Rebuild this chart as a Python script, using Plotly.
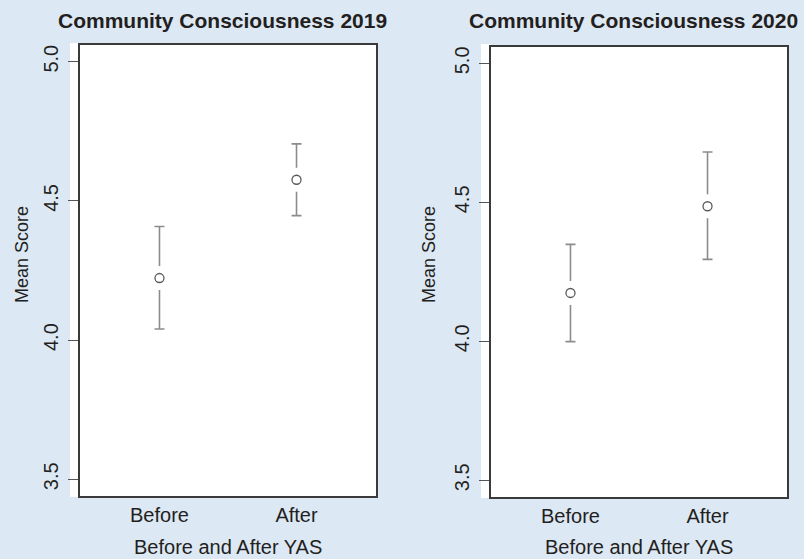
import plotly.graph_objects as go

# Group labels and their positions on the x axis
groups = ["Before", "After"]
x_pos = [1, 2]

# Mean scores with confidence limits, 2019
mean_2019 = [4.223, 4.576]
lower_2019 = [4.040, 4.447]
upper_2019 = [4.408, 4.705]

# Mean scores with confidence limits, 2020
mean_2020 = [4.174, 4.486]
lower_2020 = [3.999, 4.295]
upper_2020 = [4.349, 4.681]

y_ticks = [3.5, 4.0, 4.5, 5.0]
y_tick_labels = ["3.5", "4.0", "4.5", "5.0"]
panel_titles = ["Community Consciousness 2019", "Community Consciousness 2020"]
x_title = "Before and After YAS"
y_title = "Mean Score"

W, H = 804, 559
BG = "#dde8f5"
TXT = "#231f20"
FONT = "Liberation Sans, Arial, Helvetica, sans-serif"


def px_x(v):
    return v / W


def px_y(v):
    return 1 - v / H


panels = [
    dict(means=mean_2019, lo=lower_2019, hi=upper_2019,
         xdom=[px_x(80), px_x(376)], ydom=[px_y(496), px_y(45)],
         strip=(70, 80, 43, 497), title_x=222, ytitle_x=22),
    dict(means=mean_2020, lo=lower_2020, hi=upper_2020,
         xdom=[px_x(491), px_x(787)], ydom=[px_y(497), px_y(46.7)],
         strip=(481, 491, 44, 498), title_x=633, ytitle_x=429),
]

fig = go.Figure()
shapes = []
annotations = []

for i, p in enumerate(panels, start=1):
    xa = "x" if i == 1 else f"x{i}"
    ya = "y" if i == 1 else f"y{i}"
    plus = [h - m for h, m in zip(p["hi"], p["means"])]
    minus = [m - l for m, l in zip(p["means"], p["lo"])]

    # interval whiskers with end caps
    fig.add_trace(go.Scatter(
        x=x_pos, y=p["means"], mode="markers", xaxis=xa, yaxis=ya,
        marker=dict(size=1, color="rgba(0,0,0,0)"),
        error_y=dict(type="data", array=plus, arrayminus=minus, visible=True,
                     color="#8c8c8c", thickness=1.6, width=5),
        showlegend=False, hoverinfo="skip"))
    # white halo leaving a gap in the whisker around each point
    fig.add_trace(go.Scatter(
        x=x_pos, y=p["means"], mode="markers", xaxis=xa, yaxis=ya,
        marker=dict(size=24, color="white", line=dict(width=0)),
        showlegend=False, hoverinfo="skip"))
    # mean points
    fig.add_trace(go.Scatter(
        x=x_pos, y=p["means"], mode="markers", xaxis=xa, yaxis=ya,
        marker=dict(symbol="circle-open", size=9, color="#5a5a5a",
                    line=dict(width=1.3, color="#5a5a5a")),
        showlegend=False))

    axis_line = dict(showline=True, mirror=True, linecolor="#3a3a3a",
                     linewidth=1.5, showgrid=False, zeroline=False)
    fig.update_layout(**{
        ("xaxis" if i == 1 else f"xaxis{i}"): dict(
            domain=p["xdom"], range=[0.42, 2.58], anchor=ya,
            tickmode="array", tickvals=x_pos, ticktext=groups, ticks="",
            ticklabelstandoff=0,
            tickfont=dict(size=20, color=TXT, family=FONT), **axis_line),
        ("yaxis" if i == 1 else f"yaxis{i}"): dict(
            domain=p["ydom"], range=[3.44, 5.06], anchor=xa,
            tickmode="array", tickvals=y_ticks, ticktext=y_tick_labels,
            ticks="outside", ticklen=10, tickwidth=1.3, tickcolor="#555555",
            tickangle=-90, ticklabelstandoff=2,
            tickfont=dict(size=20, color=TXT, family=FONT), **axis_line),
    })

    sx0, sx1, sy0, sy1 = p["strip"]
    shapes.append(dict(type="rect", xref="paper", yref="paper",
                       x0=px_x(sx0), x1=px_x(sx1), y0=px_y(sy1), y1=px_y(sy0),
                       fillcolor="white", line=dict(width=0), layer="below"))

    cx = (p["xdom"][0] + p["xdom"][1]) / 2
    annotations.append(dict(text=f"<b>{panel_titles[i - 1]}</b>", xref="paper", yref="paper",
                            x=px_x(p["title_x"]), y=px_y(20), xanchor="center", yanchor="middle",
                            showarrow=False, font=dict(size=21, color=TXT, family=FONT)))
    annotations.append(dict(text=x_title, xref="paper", yref="paper",
                            x=cx, y=px_y(547), xanchor="center", yanchor="middle",
                            showarrow=False, font=dict(size=20, color=TXT, family=FONT)))
    annotations.append(dict(text=y_title, xref="paper", yref="paper", textangle=-90,
                            x=px_x(p["ytitle_x"]), y=px_y(255), xanchor="center", yanchor="middle",
                            showarrow=False, font=dict(size=18, color=TXT, family=FONT)))

fig.update_layout(
    width=W, height=H, margin=dict(l=0, r=0, t=0, b=0),
    paper_bgcolor=BG, plot_bgcolor="white",
    shapes=shapes, annotations=annotations,
    font=dict(family=FONT, color=TXT),
)

fig.write_html("out.html")
